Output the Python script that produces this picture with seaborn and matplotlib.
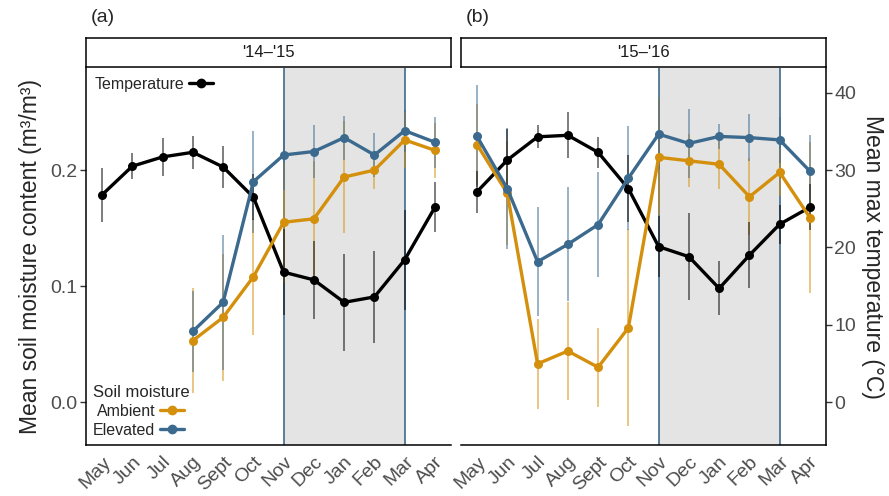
import numpy as np
import pandas as pd
import matplotlib
matplotlib.use("Agg")
import matplotlib.pyplot as plt
from matplotlib.lines import Line2D
import seaborn as sns

# months on the x axis (same for both seasons)
months = ["May", "Jun", "Jul", "Aug", "Sept", "Oct", "Nov", "Dec", "Jan", "Feb", "Mar", "Apr"]
seasons = ["'14\u2013'15", "'15\u2013'16"]

# '14-'15 : mean max temperature (C) and soil moisture (m3/m3), with error
temp_a = [26.8, 30.5, 31.7, 32.3, 30.4, 26.5, 16.8, 15.8, 12.9, 13.6, 18.4, 25.2]
temp_a_err = [3.5, 1.7, 2.5, 2.1, 2.7, 3.0, 5.6, 5.0, 6.3, 6.0, 6.5, 3.2]
amb_a = [np.nan, np.nan, np.nan, 0.053, 0.073, 0.108, 0.155, 0.158, 0.194, 0.200, 0.226, 0.217]
amb_a_err = [0, 0, 0, 0.045, 0.055, 0.050, 0.052, 0.050, 0.048, 0.016, 0.024, 0.024]
elev_a = [np.nan, np.nan, np.nan, 0.061, 0.086, 0.190, 0.213, 0.216, 0.228, 0.213, 0.234, 0.224]
elev_a_err = [0, 0, 0, 0.035, 0.058, 0.044, 0.030, 0.023, 0.019, 0.019, 0.018, 0.022]

# '15-'16
temp_b = [27.2, 31.3, 34.3, 34.5, 32.3, 27.6, 20.1, 18.8, 14.7, 19.0, 23.0, 25.2]
temp_b_err = [2.7, 4.0, 1.5, 3.0, 2.0, 4.3, 3.9, 5.6, 3.5, 4.3, 2.5, 3.0]
amb_b = [0.222, 0.180, 0.033, 0.044, 0.030, 0.064, 0.211, 0.208, 0.205, 0.177, 0.198, 0.159]
amb_b_err = [0.035, 0.045, 0.039, 0.042, 0.034, 0.085, 0.050, 0.023, 0.021, 0.033, 0.020, 0.065]
elev_b = [0.229, 0.184, 0.121, 0.136, 0.153, 0.193, 0.231, 0.223, 0.229, 0.228, 0.226, 0.199]
elev_b_err = [0.044, 0.052, 0.047, 0.049, 0.045, 0.045, 0.030, 0.030, 0.011, 0.020, 0.020, 0.031]

scale = 150  # secondary axis: temperature = moisture * 150

colors = {"Temperature": "black", "Ambient": "#D4900C", "Elevated": "#3B6A8E"}

sns.set_theme(style="white")
plt.rcParams["font.family"] = ["Liberation Sans", "DejaVu Sans"]

fig = plt.figure(figsize=(8.89, 4.96), dpi=100)
W, H = 889, 496


def make_df(temp, temp_err, amb, amb_err, elev, elev_err):
    rows = []
    for name, vals, errs, k in [("Temperature", temp, temp_err, scale),
                                ("Ambient", amb, amb_err, 1),
                                ("Elevated", elev, elev_err, 1)]:
        for i, (v, e) in enumerate(zip(vals, errs)):
            if not np.isnan(v):
                rows.append({"pos": i, "val": v / k, "err": e / k, "series": name})
    return pd.DataFrame(rows)


panels = [
    make_df(temp_a, temp_a_err, amb_a, amb_a_err, elev_a, elev_a_err),
    make_df(temp_b, temp_b_err, amb_b, amb_b_err, elev_b, elev_b_err),
]
lefts = [86, 461]
tags = ["(a)", "(b)"]

for p, df in enumerate(panels):
    ax = fig.add_axes([lefts[p] / W, 51 / H, 365 / W, 377 / H])
    ax.set_xlim(-0.53, 11.53)
    ax.set_ylim(-0.037, 0.288)

    # winter shading
    ax.axvspan(6, 10, color="#E4E4E4", zorder=0, lw=0)
    ax.axvline(6, color="#3F6A8C", lw=1.2, zorder=1)
    ax.axvline(10, color="#3F6A8C", lw=1.2, zorder=1)

    # error bars
    for name, g in df.groupby("series"):
        ax.vlines(g["pos"], g["val"] - g["err"], g["val"] + g["err"],
                  color=colors[name], alpha=0.55, lw=1.3, zorder=2)

    sns.lineplot(data=df, x="pos", y="val", hue="series", palette=colors,
                 hue_order=["Temperature", "Ambient", "Elevated"],
                 marker="o", markersize=6.5, markeredgewidth=0, linewidth=2.4,
                 errorbar=None, legend=False, ax=ax, zorder=3)

    ax.set_xlabel("")
    ax.set_ylabel("")
    ax.set_xticks(range(len(months)))
    ax.set_xticklabels(months, rotation=45, ha="right", rotation_mode="anchor",
                       fontsize=14, color="#4D4D4D")
    ax.tick_params(axis="x", length=4, width=1, color="#333333", pad=2)
    for s in ["top", "right"]:
        ax.spines[s].set_visible(False)
    ax.spines["bottom"].set_color("black")
    ax.spines["bottom"].set_linewidth(1.1)

    if p == 0:
        ax.set_yticks([0.0, 0.1, 0.2])
        ax.set_yticklabels(["0.0", "0.1", "0.2"], fontsize=14, color="#4D4D4D")
        ax.tick_params(axis="y", left=True, length=4, width=1, color="#333333", pad=2)
        ax.spines["left"].set_color("black")
        ax.spines["left"].set_linewidth(1.1)
        ax.set_ylabel("Mean soil moisture content (m\u00b3/m\u00b3)", fontsize=16.5, labelpad=6)

        leg1 = ax.legend(handles=[Line2D([], [], color="black", marker="o", lw=2.4, markersize=6)],
                         labels=["Temperature"], loc="upper left", bbox_to_anchor=(0.0, 1.0),
                         markerfirst=False, frameon=False, fontsize=11.5, handlelength=1.5,
                         handletextpad=0.3, borderaxespad=0.15)
        ax.add_artist(leg1)
        hs = [Line2D([], [], color=colors[k], marker="o", lw=2.4, markersize=6) for k in ["Ambient", "Elevated"]]
        ax.legend(handles=hs, labels=["Ambient", "Elevated"], title="Soil moisture",
                  title_fontsize=12, loc="lower left", bbox_to_anchor=(0.0, 0.0),
                  markerfirst=False, frameon=False, fontsize=11.5, handlelength=1.5,
                  handletextpad=0.3, labelspacing=0.25, borderaxespad=0.05, alignment="left")
    else:
        ax.spines["left"].set_visible(False)
        ax.tick_params(axis="y", left=False, labelleft=False)
        sec = ax.secondary_yaxis("right", functions=(lambda y: y * scale, lambda t: t / scale))
        sec.set_yticks([0, 10, 20, 30, 40])
        sec.set_yticklabels(["0", "10", "20", "30", "40"], fontsize=14, color="#4D4D4D")
        sec.tick_params(axis="y", length=4, width=1, color="#333333", pad=2)
        sec.spines["right"].set_color("black")
        sec.spines["right"].set_linewidth(1.1)
        sec.set_ylabel("Mean max temperature (\u00b0C)", fontsize=16.5, rotation=270, labelpad=20)

    # facet strip
    strip = fig.add_axes([lefts[p] / W, 429 / H, 365 / W, 29 / H])
    strip.set_xticks([])
    strip.set_yticks([])
    strip.set_facecolor("white")
    for s in strip.spines.values():
        s.set_visible(True)
        s.set_color("black")
        s.set_linewidth(1.1)
    strip.text(0.5, 0.5, seasons[p], ha="center", va="center", fontsize=12, color="#1A1A1A")

    fig.text((lefts[p] + 5) / W, 1 - 18 / H, tags[p], fontsize=14, va="center", ha="left")

fig.savefig("out.png", dpi=100)
